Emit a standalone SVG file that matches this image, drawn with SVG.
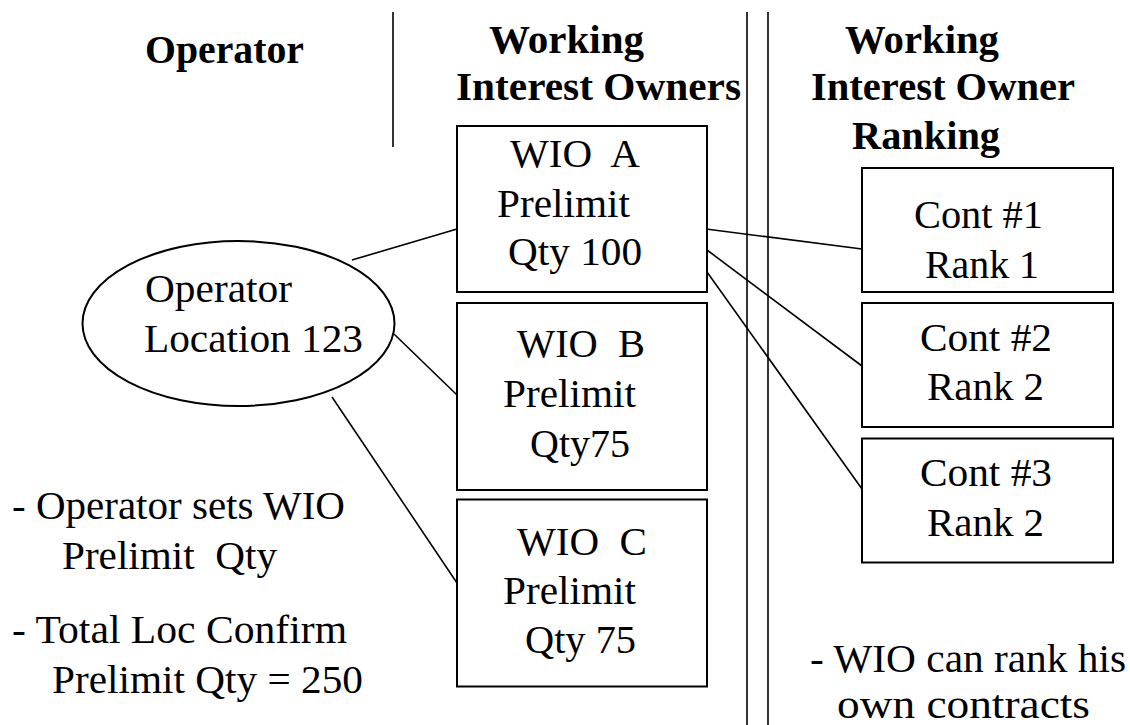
<svg xmlns="http://www.w3.org/2000/svg" width="1130" height="725" viewBox="0 0 1130 725">
<style>
text{font-family:"Liberation Serif","Times New Roman",Tinos,"DejaVu Serif",serif;font-size:40px;fill:#000}
.h{font-weight:bold}
.box{fill:#fff;stroke:#000;stroke-width:2}
.ln{stroke:#000;stroke-width:1.6;fill:none}
</style>
<rect width="1130" height="725" fill="#fff"/>
<g id="dividers">
<line class="ln" x1="393" y1="12" x2="393" y2="147"/>
<line class="ln" x1="747" y1="12" x2="747" y2="725"/>
<line class="ln" x1="768" y1="12" x2="768" y2="725"/>
</g>
<g id="headers">
<text class="h" x="145" y="63" textLength="159" lengthAdjust="spacingAndGlyphs">Operator</text>
<text class="h" x="489" y="53" textLength="155" lengthAdjust="spacingAndGlyphs">Working</text>
<text class="h" x="456" y="100" textLength="285" lengthAdjust="spacingAndGlyphs">Interest Owners</text>
<text class="h" x="845" y="53" textLength="154" lengthAdjust="spacingAndGlyphs">Working</text>
<text class="h" x="811" y="100" textLength="264" lengthAdjust="spacingAndGlyphs">Interest Owner</text>
<text class="h" x="852" y="149" textLength="148" lengthAdjust="spacingAndGlyphs">Ranking</text>
</g>
<g id="connectors">
<line class="ln" x1="352" y1="260" x2="457" y2="229"/>
<line class="ln" x1="394" y1="334" x2="457" y2="395"/>
<line class="ln" x1="332" y1="397" x2="457" y2="583"/>
<line class="ln" x1="706" y1="229" x2="862" y2="249"/>
<line class="ln" x1="707" y1="250" x2="862" y2="366"/>
<line class="ln" x1="707" y1="272" x2="862" y2="489"/>
</g>
<g id="operator-location">
<ellipse class="box" cx="238.5" cy="323.5" rx="156" ry="82.5"/>
<text x="145" y="302" textLength="147" lengthAdjust="spacingAndGlyphs">Operator</text>
<text x="144" y="352" textLength="219" lengthAdjust="spacingAndGlyphs">Location 123</text>
</g>
<g id="wio-a">
<rect class="box" x="457" y="126" width="250" height="166"/>
<text xml:space="preserve" x="510" y="167" textLength="130" lengthAdjust="spacingAndGlyphs">WIO  A</text>
<text x="497" y="217" textLength="133" lengthAdjust="spacingAndGlyphs">Prelimit</text>
<text x="508" y="265" textLength="134" lengthAdjust="spacingAndGlyphs">Qty 100</text>
</g>
<g id="wio-b">
<rect class="box" x="457" y="303" width="250" height="187"/>
<text xml:space="preserve" x="517" y="357" textLength="128" lengthAdjust="spacingAndGlyphs">WIO  B</text>
<text x="503" y="407" textLength="133" lengthAdjust="spacingAndGlyphs">Prelimit</text>
<text x="530" y="457" textLength="100" lengthAdjust="spacingAndGlyphs">Qty75</text>
</g>
<g id="wio-c">
<rect class="box" x="457" y="499.5" width="250" height="187"/>
<text xml:space="preserve" x="517" y="555" textLength="130" lengthAdjust="spacingAndGlyphs">WIO  C</text>
<text x="503" y="604" textLength="133" lengthAdjust="spacingAndGlyphs">Prelimit</text>
<text x="525" y="653" textLength="111" lengthAdjust="spacingAndGlyphs">Qty 75</text>
</g>
<g id="cont-1">
<rect class="box" x="862" y="168" width="251" height="124"/>
<text x="914" y="228" textLength="129" lengthAdjust="spacingAndGlyphs">Cont #1</text>
<text x="925" y="278" textLength="114" lengthAdjust="spacingAndGlyphs">Rank 1</text>
</g>
<g id="cont-2">
<rect class="box" x="862" y="303" width="251" height="124"/>
<text x="920" y="351" textLength="132" lengthAdjust="spacingAndGlyphs">Cont #2</text>
<text x="927" y="400" textLength="117" lengthAdjust="spacingAndGlyphs">Rank 2</text>
</g>
<g id="cont-3">
<rect class="box" x="862" y="438.5" width="251" height="124"/>
<text x="920" y="486" textLength="132" lengthAdjust="spacingAndGlyphs">Cont #3</text>
<text x="927" y="536" textLength="117" lengthAdjust="spacingAndGlyphs">Rank 2</text>
</g>
<g id="notes">
<text x="12" y="519" textLength="333" lengthAdjust="spacingAndGlyphs">- Operator sets WIO</text>
<text xml:space="preserve" x="62" y="569" textLength="215" lengthAdjust="spacingAndGlyphs">Prelimit  Qty</text>
<text x="12" y="643" textLength="335" lengthAdjust="spacingAndGlyphs">- Total Loc Confirm</text>
<text x="52" y="693" textLength="311" lengthAdjust="spacingAndGlyphs">Prelimit Qty = 250</text>
<text x="810" y="672" textLength="316" lengthAdjust="spacingAndGlyphs">- WIO can rank his</text>
<text x="837" y="718" textLength="253" lengthAdjust="spacingAndGlyphs">own contracts</text>
</g>
</svg>
